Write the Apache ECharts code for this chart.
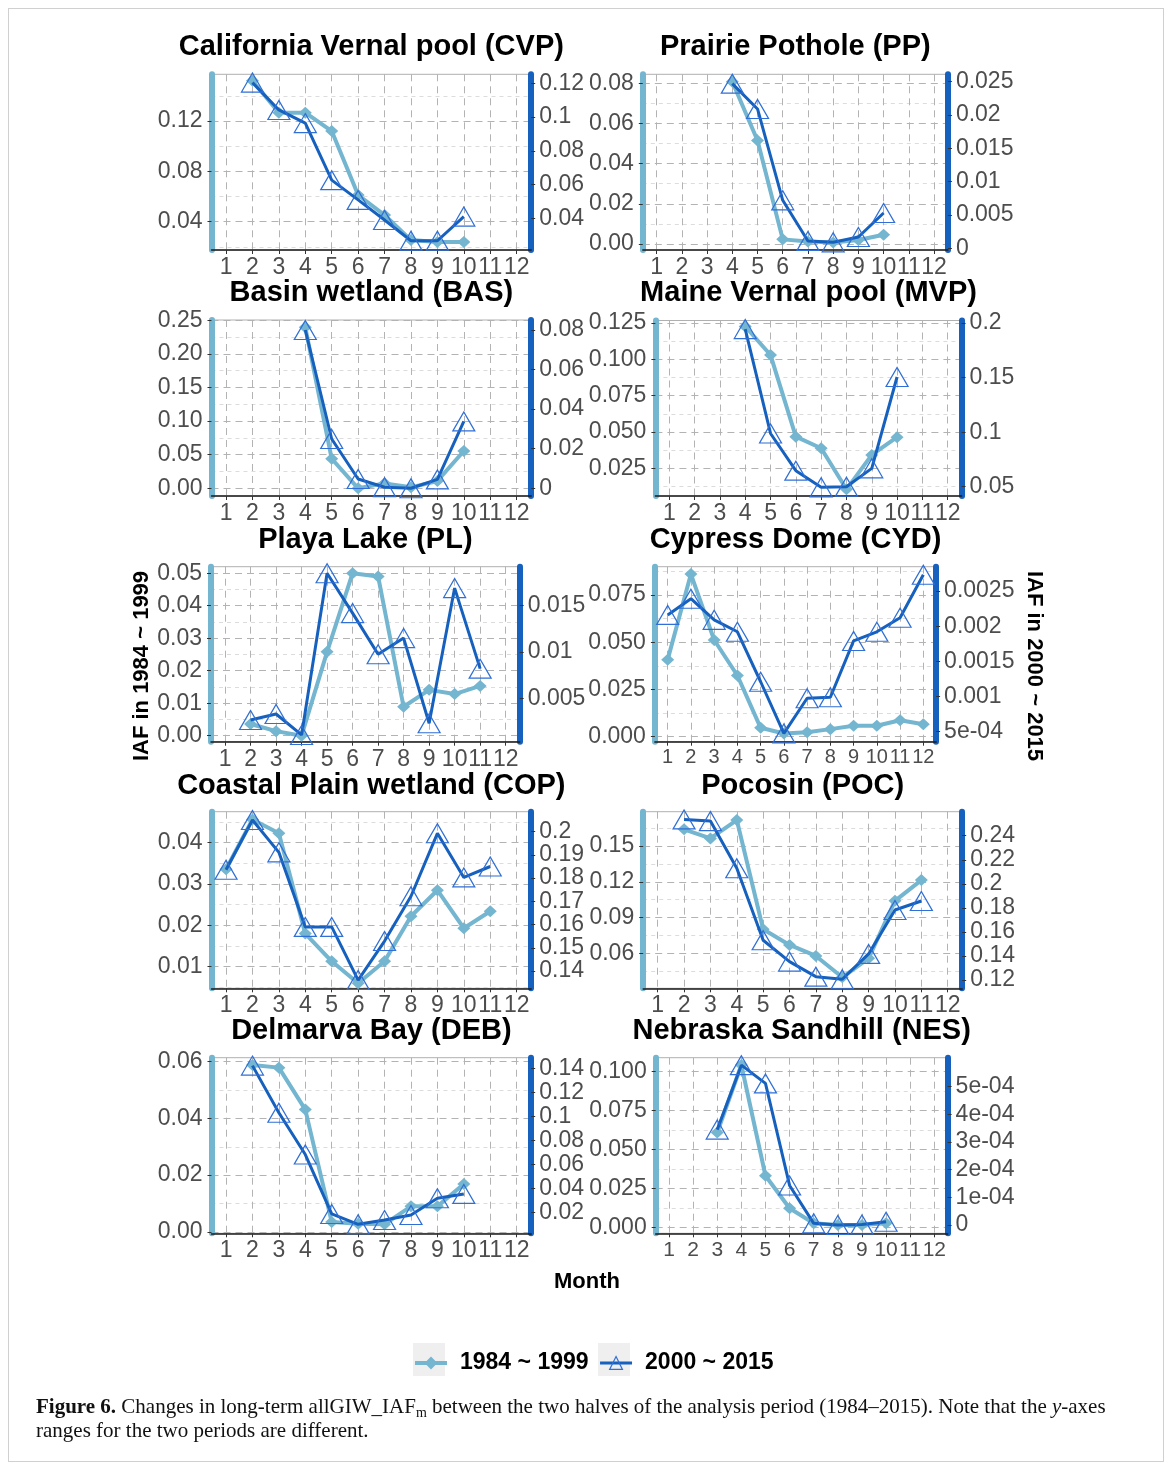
<!DOCTYPE html>
<html>
<head>
<meta charset="utf-8">
<title>Changes in long-term allGIW_IAF</title>
<script src="https://cdn.jsdelivr.net/npm/echarts@6/dist/echarts.min.js"></script>
<style>
html, body { margin: 0; padding: 0; background: #fff; }
#frame { position: absolute; left: 8px; top: 8px; width: 1154px; height: 1452px; border: 1px solid #d0d0d0; }
#chart { position: absolute; left: 0; top: 0; width: 1168px; height: 1463px; }
#caption {
  position: absolute; left: 36px; top: 1394px; white-space: nowrap;
  font-family: "Liberation Serif", "DejaVu Serif", serif; font-size: 21px; line-height: 24px; color: #111;
}
#caption sub { font-size: 14px; line-height: 0; vertical-align: -4px; }
</style>
</head>
<body>
<div id="frame"></div>
<div id="chart"></div>
<div id="caption"><b>Figure 6.</b> Changes in long-term allGIW_IAF<sub>m</sub> between the two halves of the analysis period (1984–2015). Note that the <i>y</i>-axes<br>ranges for the two periods are different.</div>
<script>
// months on the x axis
const months = [1, 2, 3, 4, 5, 6, 7, 8, 9, 10, 11, 12];
const seriesNames = ["1984 ~ 1999", "2000 ~ 2015"];

// values per month (null = no data)
const cvpEarly = [null, 0.152, 0.1266, 0.1266, 0.112, 0.0612, 0.0453, 0.0254, 0.0238, 0.0238, null, null];
const cvpLate = [null, 0.1204, 0.1042, 0.0964, 0.0626, 0.0509, 0.039, 0.0267, 0.0267, 0.041, null, null];
const ppEarly = [null, null, null, 0.0808, 0.0515, 0.0023, 0.0012, 0.0008, 0.002, 0.0046, null, null];
const ppLate = [null, null, null, 0.0247, 0.0209, 0.0072, 0.0011, 0.0009, 0.0017, 0.0053, null, null];
const basEarly = [null, null, null, 0.2396, 0.044, 0.0, 0.0074, 0.0015, 0.011, 0.0555, null, null];
const basLate = [null, null, null, 0.08, 0.0249, 0.0047, 0.0005, 0.0, 0.0045, 0.0338, null, null];
const mvpEarly = [null, null, null, 0.1227, 0.103, 0.0468, 0.0388, 0.0105, 0.0342, 0.0464, null, null];
const mvpLate = [null, null, null, 0.1945, 0.0988, 0.0647, 0.0494, 0.05, 0.0668, 0.1506, null, null];
const plEarly = [null, 0.0036, 0.0014, 0.0, 0.0258, 0.05, 0.049, 0.0089, 0.0141, 0.0128, 0.0153, null];
const plLate = [null, 0.00266, 0.0033, 0.00104, 0.0185, 0.0142, 0.00975, 0.0115, 0.0023, 0.0169, 0.0082, null];
const cydEarly = [0.0408, 0.0861, 0.0512, 0.0324, 0.0047, 0.0017, 0.0023, 0.004, 0.0058, 0.0058, 0.0087, 0.0066];
const cydLate = [0.00216, 0.00239, 0.00209, 0.00192, 0.00121, 0.000476, 0.000976, 0.00099, 0.00179, 0.00192, 0.00212, 0.00273];
const copEarly = [0.0336, 0.0456, 0.0423, 0.018, 0.0113, 0.006, 0.0113, 0.0222, 0.0285, 0.0193, 0.0234, null];
const copLate = [0.1836, 0.205, 0.1911, 0.159, 0.159, 0.1361, 0.1529, 0.1722, 0.1993, 0.1803, 0.185, null];
const pocEarly = [null, 0.164, 0.1564, 0.1718, 0.0802, 0.067, 0.0578, 0.0399, 0.0558, 0.104, 0.1214, null];
const pocLate = [null, 0.2536, 0.2522, 0.213, 0.1531, 0.1353, 0.1228, 0.1206, 0.1417, 0.1782, 0.1857, null];
const debEarly = [null, 0.0588, 0.0579, 0.0431, 0.0035, 0.0029, 0.0027, 0.009, 0.009, 0.0169, null, null];
const debLate = [null, 0.1422, 0.1029, 0.0681, 0.0186, 0.01, 0.0136, 0.0178, 0.0317, 0.0353, null, null];
const nesEarly = [null, null, 0.0609, 0.1043, 0.0331, 0.0122, 0.0026, 0.0015, 0.0015, 0.0026, null, null];
const nesLate = [null, null, 0.000345, 0.000578, 0.000512, 0.000143, 0.000006, 0.0, 0.000002, 0.000012, null, null];

// tick labels (left axis = 1984~1999, right axis = 2000~2015)
const cvpLeftTicks = ["0.04", "0.08", "0.12"];
const cvpRightTicks = ["0.04", "0.06", "0.08", "0.1", "0.12"];
const ppLeftTicks = ["0.00", "0.02", "0.04", "0.06", "0.08"];
const ppRightTicks = ["0", "0.005", "0.01", "0.015", "0.02", "0.025"];
const basLeftTicks = ["0.00", "0.05", "0.10", "0.15", "0.20", "0.25"];
const basRightTicks = ["0", "0.02", "0.04", "0.06", "0.08"];
const mvpLeftTicks = ["0.025", "0.050", "0.075", "0.100", "0.125"];
const mvpRightTicks = ["0.05", "0.1", "0.15", "0.2"];
const plLeftTicks = ["0.00", "0.01", "0.02", "0.03", "0.04", "0.05"];
const plRightTicks = ["0.005", "0.01", "0.015"];
const cydLeftTicks = ["0.000", "0.025", "0.050", "0.075"];
const cydRightTicks = ["5e-04", "0.001", "0.0015", "0.002", "0.0025"];
const copLeftTicks = ["0.01", "0.02", "0.03", "0.04"];
const copRightTicks = ["0.14", "0.15", "0.16", "0.17", "0.18", "0.19", "0.2"];
const pocLeftTicks = ["0.06", "0.09", "0.12", "0.15"];
const pocRightTicks = ["0.12", "0.14", "0.16", "0.18", "0.2", "0.22", "0.24"];
const debLeftTicks = ["0.00", "0.02", "0.04", "0.06"];
const debRightTicks = ["0.02", "0.04", "0.06", "0.08", "0.1", "0.12", "0.14"];
const nesLeftTicks = ["0.000", "0.025", "0.050", "0.075", "0.100"];
const nesRightTicks = ["0", "1e-04", "2e-04", "3e-04", "4e-04", "5e-04"];

const LIGHT = "#74b5d0";
const DARK = "#1660be";
const TRI = "#2f6fd6";
const FONT = "'Liberation Sans', Arial, sans-serif";
const TICK_FONT = 23;

// panel layout: box = [left, top, right, bottom] of the plot area, ly/ry = axis ranges
// xFont: month labels are a bit smaller where the panel is narrow, so 10 11 12 all stay visible
const panels = [
  { name: "California Vernal pool (CVP)", early: cvpEarly, late: cvpLate, lt: cvpLeftTicks, rt: cvpRightTicks,
    ly: [0.01752, 0.1571], ry: [0.02122, 0.12533], box: [211.5, 74.3, 531.2, 250], titleY: 47 },
  { name: "Prairie Pothole (PP)", early: ppEarly, late: ppLate, lt: ppLeftTicks, rt: ppRightTicks,
    ly: [-0.00299, 0.08448], ry: [-0.00025, 0.0261], box: [642.8, 74.3, 947.9, 250], titleY: 47 },
  { name: "Basin wetland (BAS)", early: basEarly, late: basLate, lt: basLeftTicks, rt: basRightTicks,
    ly: [-0.0114, 0.2505], ry: [-0.0039, 0.08505], box: [211.5, 320, 531.2, 496], titleY: 293.3 },
  { name: "Maine Vernal pool (MVP)", early: mvpEarly, late: mvpLate, lt: mvpLeftTicks, rt: mvpRightTicks,
    ly: [0.0059, 0.1268], ry: [0.04146, 0.2024], box: [655.4, 320.5, 961.6, 496], titleY: 293.3 },
  { name: "Playa Lake (PL)", early: plEarly, late: plLate, lt: plLeftTicks, rt: plRightTicks,
    ly: [-0.00185, 0.052], ry: [0.00031, 0.01921], box: [211, 566.7, 519.7, 741.7], titleY: 539.5 },
  { name: "Cypress Dome (CYD)", early: cydEarly, late: cydLate, lt: cydLeftTicks, rt: cydRightTicks,
    ly: [-0.00265, 0.09], ry: [0.000358, 0.002845], box: [654.9, 566.7, 936.1, 741.7], titleY: 539.5, xFont: 20 },
  { name: "Coastal Plain wetland (COP)", early: copEarly, late: copLate, lt: copLeftTicks, rt: copRightTicks,
    ly: [0.00477, 0.0475], ry: [0.13255, 0.2086], box: [211.5, 811.7, 531.2, 988.3], titleY: 785.5 },
  { name: "Pocosin (POC)", early: pocEarly, late: pocLate, lt: pocLeftTicks, rt: pocRightTicks,
    ly: [0.03065, 0.1788], ry: [0.1131, 0.26], box: [643.2, 811.7, 962.2, 988.3], titleY: 785.5 },
  { name: "Delmarva Bay (DEB)", early: debEarly, late: debLate, lt: debLeftTicks, rt: debRightTicks,
    ly: [-0.0005, 0.0614], ry: [0.0025, 0.1488], box: [211.5, 1057.7, 531.2, 1233.3], titleY: 1031.3 },
  { name: "Nebraska Sandhill (NES)", early: nesEarly, late: nesLate, lt: nesLeftTicks, rt: nesRightTicks,
    ly: [-0.00386, 0.109], ry: [-0.00003, 0.000605], box: [655.7, 1057.7, 947.6, 1233.3], titleY: 1031.3, xFont: 21 }
];

function labelFormatter(ticks) {
  return function (v) {
    const s = ticks.find(t => Math.abs(Number(t) - v) < 1e-10);
    return s !== undefined ? s : "";
  };
}

// minor grid lines half way between the major breaks
function minorValues(ticks, range) {
  const vals = ticks.map(Number);
  const step = vals[1] - vals[0];
  const out = [];
  for (let v = vals[0] - step / 2; v < range[1]; v += step) {
    if (v > range[0]) out.push(Number(v.toFixed(10)));
  }
  return out;
}

const grids = [], xAxes = [], yAxes = [], series = [], titles = [];

panels.forEach((p, i) => {
  const [L, T, R, B] = p.box;
  grids.push({
    left: L, top: T, width: R - L, height: B - T,
    show: true, backgroundColor: "#fff", borderColor: "#b0b0b0", borderWidth: 1,
    containLabel: false, outerBoundsMode: "none"
  });
  xAxes.push({
    gridIndex: i, type: "value", min: 0.45, max: 12.55,
    axisLine: { show: true, onZero: false, lineStyle: { color: "#1a1a1a", width: 1.5 } },
    axisTick: { show: true, customValues: months, length: 4, lineStyle: { color: "#333" } },
    axisLabel: {
      customValues: months, margin: 6, fontSize: p.xFont || TICK_FONT, color: "#4d4d4d", fontFamily: FONT,
      showMinLabel: true, showMaxLabel: true, hideOverlap: false
    },
    splitLine: { show: true, lineStyle: { color: "#b3b3b3", type: [7, 5], width: 1 } }
  });
  const lv = p.lt.map(Number), rv = p.rt.map(Number);
  // left axis 1984 ~ 1999
  yAxes.push({
    gridIndex: i, type: "value", position: "left", min: p.ly[0], max: p.ly[1],
    axisLine: { show: true, onZero: false, lineStyle: { color: LIGHT, width: 6 } },
    axisTick: { show: true, customValues: lv, length: 4, lineStyle: { color: "#333" } },
    axisLabel: {
      customValues: lv, formatter: labelFormatter(p.lt), fontSize: TICK_FONT, color: "#4d4d4d", margin: 9, fontFamily: FONT,
      showMinLabel: true, showMaxLabel: true, hideOverlap: false
    },
    splitLine: { show: true, lineStyle: { color: "#b3b3b3", type: [7, 5], width: 1 } }
  });
  // right axis 2000 ~ 2015
  yAxes.push({
    gridIndex: i, type: "value", position: "right", min: p.ry[0], max: p.ry[1],
    axisLine: { show: true, onZero: false, lineStyle: { color: DARK, width: 6 } },
    axisTick: { show: true, customValues: rv, length: 4, lineStyle: { color: "#333" } },
    axisLabel: {
      customValues: rv, formatter: labelFormatter(p.rt), fontSize: TICK_FONT, color: "#4d4d4d", margin: 8, fontFamily: FONT,
      showMinLabel: true, showMaxLabel: true, hideOverlap: false
    },
    splitLine: { show: false }
  });
  // hidden axis that only draws the minor grid
  const mv = minorValues(p.lt, p.ly);
  yAxes.push({
    gridIndex: i, type: "value", position: "left", min: p.ly[0], max: p.ly[1],
    axisLine: { show: false }, axisLabel: { show: false },
    axisTick: { show: false, customValues: mv },
    splitLine: { show: true, lineStyle: { color: "#d4d4d4", type: [4, 4], width: 0.8 } }
  });

  const toData = arr => months.map((m, k) => [m, arr[k]]).filter(d => d[1] !== null);
  series.push({
    name: seriesNames[0], type: "line", xAxisIndex: i, yAxisIndex: 3 * i,
    data: toData(p.early), symbol: "diamond", symbolSize: [13, 12], showAllSymbol: true,
    lineStyle: { color: LIGHT, width: 4 }, itemStyle: { color: LIGHT },
    emphasis: { disabled: true }, z: 2
  });
  series.push({
    name: seriesNames[1], type: "line", xAxisIndex: i, yAxisIndex: 3 * i + 1,
    data: toData(p.late), symbol: "triangle", symbolSize: [22, 19], showAllSymbol: true,
    lineStyle: { color: DARK, width: 3 },
    itemStyle: { color: "rgba(0,0,0,0)", borderColor: TRI, borderWidth: 1.2 },
    emphasis: { disabled: true }, z: 3
  });

  titles.push({
    text: p.name, left: (L + R) / 2, top: p.titleY, textAlign: "center", textVerticalAlign: "middle", padding: 0,
    textStyle: { fontSize: 29, fontWeight: "bold", color: "#000", fontFamily: FONT }
  });
});

titles.push({
  text: "Month", left: 587, top: 1282, textAlign: "center", textVerticalAlign: "middle", padding: 0,
  textStyle: { fontSize: 22, fontWeight: "bold", color: "#000", fontFamily: FONT }
});

const chart = echarts.init(document.getElementById("chart"), null, { renderer: "canvas" });
chart.setOption({
  animation: false,
  backgroundColor: "rgba(0,0,0,0)",
  title: titles,
  grid: grids,
  xAxis: xAxes,
  yAxis: yAxes,
  series: series,
  legend: {
    left: 413, top: 1351.5, orient: "horizontal",
    itemWidth: 32, itemHeight: 16, itemGap: 10, padding: 0,
    selectedMode: false,
    textStyle: { fontSize: 23, fontWeight: "bold", color: "#000", fontFamily: FONT, padding: [0, 0, 0, 8] },
    data: [
      { name: seriesNames[0], itemStyle: { color: LIGHT, borderWidth: 0 }, lineStyle: { color: LIGHT, width: 4 } },
      { name: seriesNames[1], itemStyle: { color: "rgba(0,0,0,0)", borderColor: TRI, borderWidth: 1.2 }, lineStyle: { color: DARK, width: 3 } }
    ]
  },
  graphic: [
    // grey legend key boxes
    { type: "rect", left: 413, top: 1343, z: -1, shape: { width: 32, height: 33 }, style: { fill: "#efefef" } },
    { type: "rect", left: 598, top: 1343, z: -1, shape: { width: 32, height: 33 }, style: { fill: "#efefef" } },
    // shared y axis titles
    { type: "text", x: 142, y: 666, rotation: Math.PI / 2,
      style: { text: "IAF in 1984 ~ 1999", align: "center", verticalAlign: "middle", font: "bold 22px " + FONT, fill: "#000" } },
    { type: "text", x: 1034, y: 666, rotation: -Math.PI / 2,
      style: { text: "IAF in 2000 ~ 2015", align: "center", verticalAlign: "middle", font: "bold 22px " + FONT, fill: "#000" } }
  ]
});
</script>
</body>
</html>
